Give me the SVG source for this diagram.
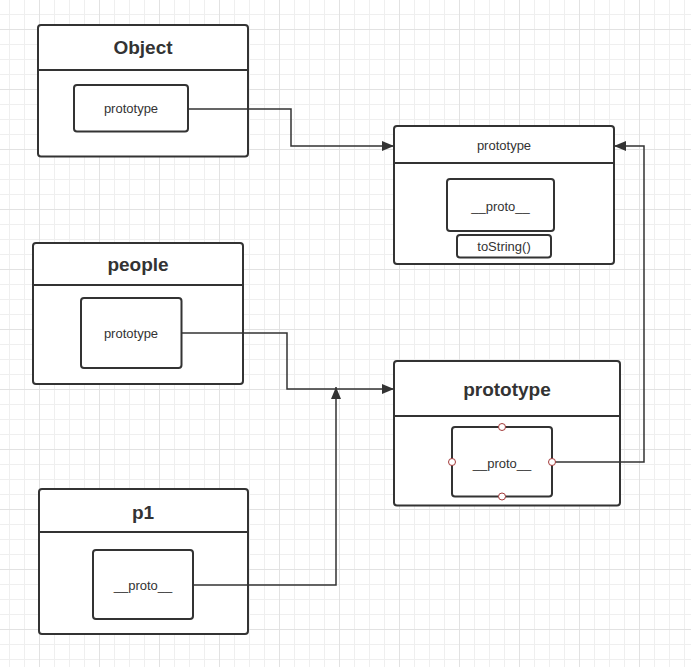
<svg xmlns="http://www.w3.org/2000/svg" width="691" height="667" viewBox="0 0 691 667">
<defs>
<pattern id="grid" patternUnits="userSpaceOnUse" x="39" y="29" width="60" height="60">
<rect x="0" y="0" width="60" height="60" fill="#ffffff"/>
<g fill="#efefef">
<rect x="15" y="0" width="1" height="60"/><rect x="30" y="0" width="1" height="60"/><rect x="45" y="0" width="1" height="60"/>
<rect x="0" y="15" width="60" height="1"/><rect x="0" y="30" width="60" height="1"/><rect x="0" y="45" width="60" height="1"/>
</g>
<g fill="#e2e2e2">
<rect x="0" y="0" width="1" height="60"/><rect x="0" y="0" width="60" height="1"/>
</g>
</pattern>
<marker id="arrow" viewBox="0 0 12 10" refX="12" refY="5" markerUnits="userSpaceOnUse" markerWidth="12" markerHeight="10" orient="auto">
<path d="M0,0 L12,5 L0,10 z" fill="#333333"/>
</marker>
</defs>
<style>
.box{fill:#ffffff;stroke:#333333;stroke-width:2}
.sep{stroke:#333333;stroke-width:2}
.conn{fill:none;stroke:#333333;stroke-width:1.5}
.title{font-family:"Liberation Sans",Arial,sans-serif;font-weight:bold;font-size:19px;fill:#333333;text-anchor:middle;dominant-baseline:central}
.lbl{font-family:"Liberation Sans",Arial,sans-serif;font-size:13px;fill:#333333;text-anchor:middle;dominant-baseline:central}
.pt{fill:#ffffff;stroke:#a33a3a;stroke-width:1}
</style>
<rect x="0" y="0" width="691" height="667" fill="url(#grid)"/>

<g id="object">
<rect class="box" x="38" y="25" width="210" height="131.5" rx="3"/>
<line class="sep" x1="38" y1="70" x2="248" y2="70"/>
<text class="title" x="143" y="47">Object</text>
<g id="object-prototype">
<rect class="box" x="74" y="85" width="114" height="46.5" rx="3"/>
<text class="lbl" x="131" y="108.5">prototype</text>
</g>
</g>

<g id="object-prototype-node">
<rect class="box" x="394" y="126" width="220" height="138" rx="3"/>
<line class="sep" x1="394" y1="163" x2="614" y2="163"/>
<text class="lbl" x="504" y="145.5">prototype</text>
<g id="object-proto">
<rect class="box" x="447" y="179" width="107" height="52" rx="3"/>
<text class="lbl" x="500.5" y="206">__proto__</text>
</g>
<g id="tostring">
<rect class="box" x="457" y="235" width="94" height="22.5" rx="3"/>
<text class="lbl" x="504" y="246">toString()</text>
</g>
</g>

<g id="people">
<rect class="box" x="33" y="243" width="210" height="141" rx="3"/>
<line class="sep" x1="33" y1="285" x2="243" y2="285"/>
<text class="title" x="138" y="264">people</text>
<g id="people-prototype">
<rect class="box" x="81" y="298" width="100.5" height="70" rx="3"/>
<text class="lbl" x="131" y="333">prototype</text>
</g>
</g>

<g id="people-prototype-node">
<rect class="box" x="394" y="361" width="226" height="144.5" rx="3"/>
<line class="sep" x1="394" y1="416" x2="620" y2="416"/>
<text class="title" x="507" y="389">prototype</text>
<g id="people-proto">
<rect class="box" x="452" y="427" width="100" height="69.5" rx="3"/>
<text class="lbl" x="502" y="463">__proto__</text>
</g>
</g>

<g id="p1">
<rect class="box" x="39" y="489" width="209" height="145" rx="3"/>
<line class="sep" x1="39" y1="532" x2="248" y2="532"/>
<text class="title" x="143" y="512">p1</text>
<g id="p1-proto">
<rect class="box" x="93" y="550" width="100" height="69" rx="3"/>
<text class="lbl" x="143" y="585">__proto__</text>
</g>
</g>

<g id="connectors">
<path class="conn" d="M188,109 H291 V146 H394" marker-end="url(#arrow)"/>
<path class="conn" d="M181,333 H287 V389 H394" marker-end="url(#arrow)"/>
<path class="conn" d="M193,585 H336 V387" marker-end="url(#arrow)"/>
<path class="conn" d="M552,462 H644 V146 H614" marker-end="url(#arrow)"/>
</g>

<g id="connection-points">
<circle class="pt" cx="502" cy="427" r="3.5"/>
<circle class="pt" cx="502" cy="496.5" r="3.5"/>
<circle class="pt" cx="452" cy="462" r="3.5"/>
<circle class="pt" cx="552" cy="462" r="3.5"/>
</g>
</svg>
